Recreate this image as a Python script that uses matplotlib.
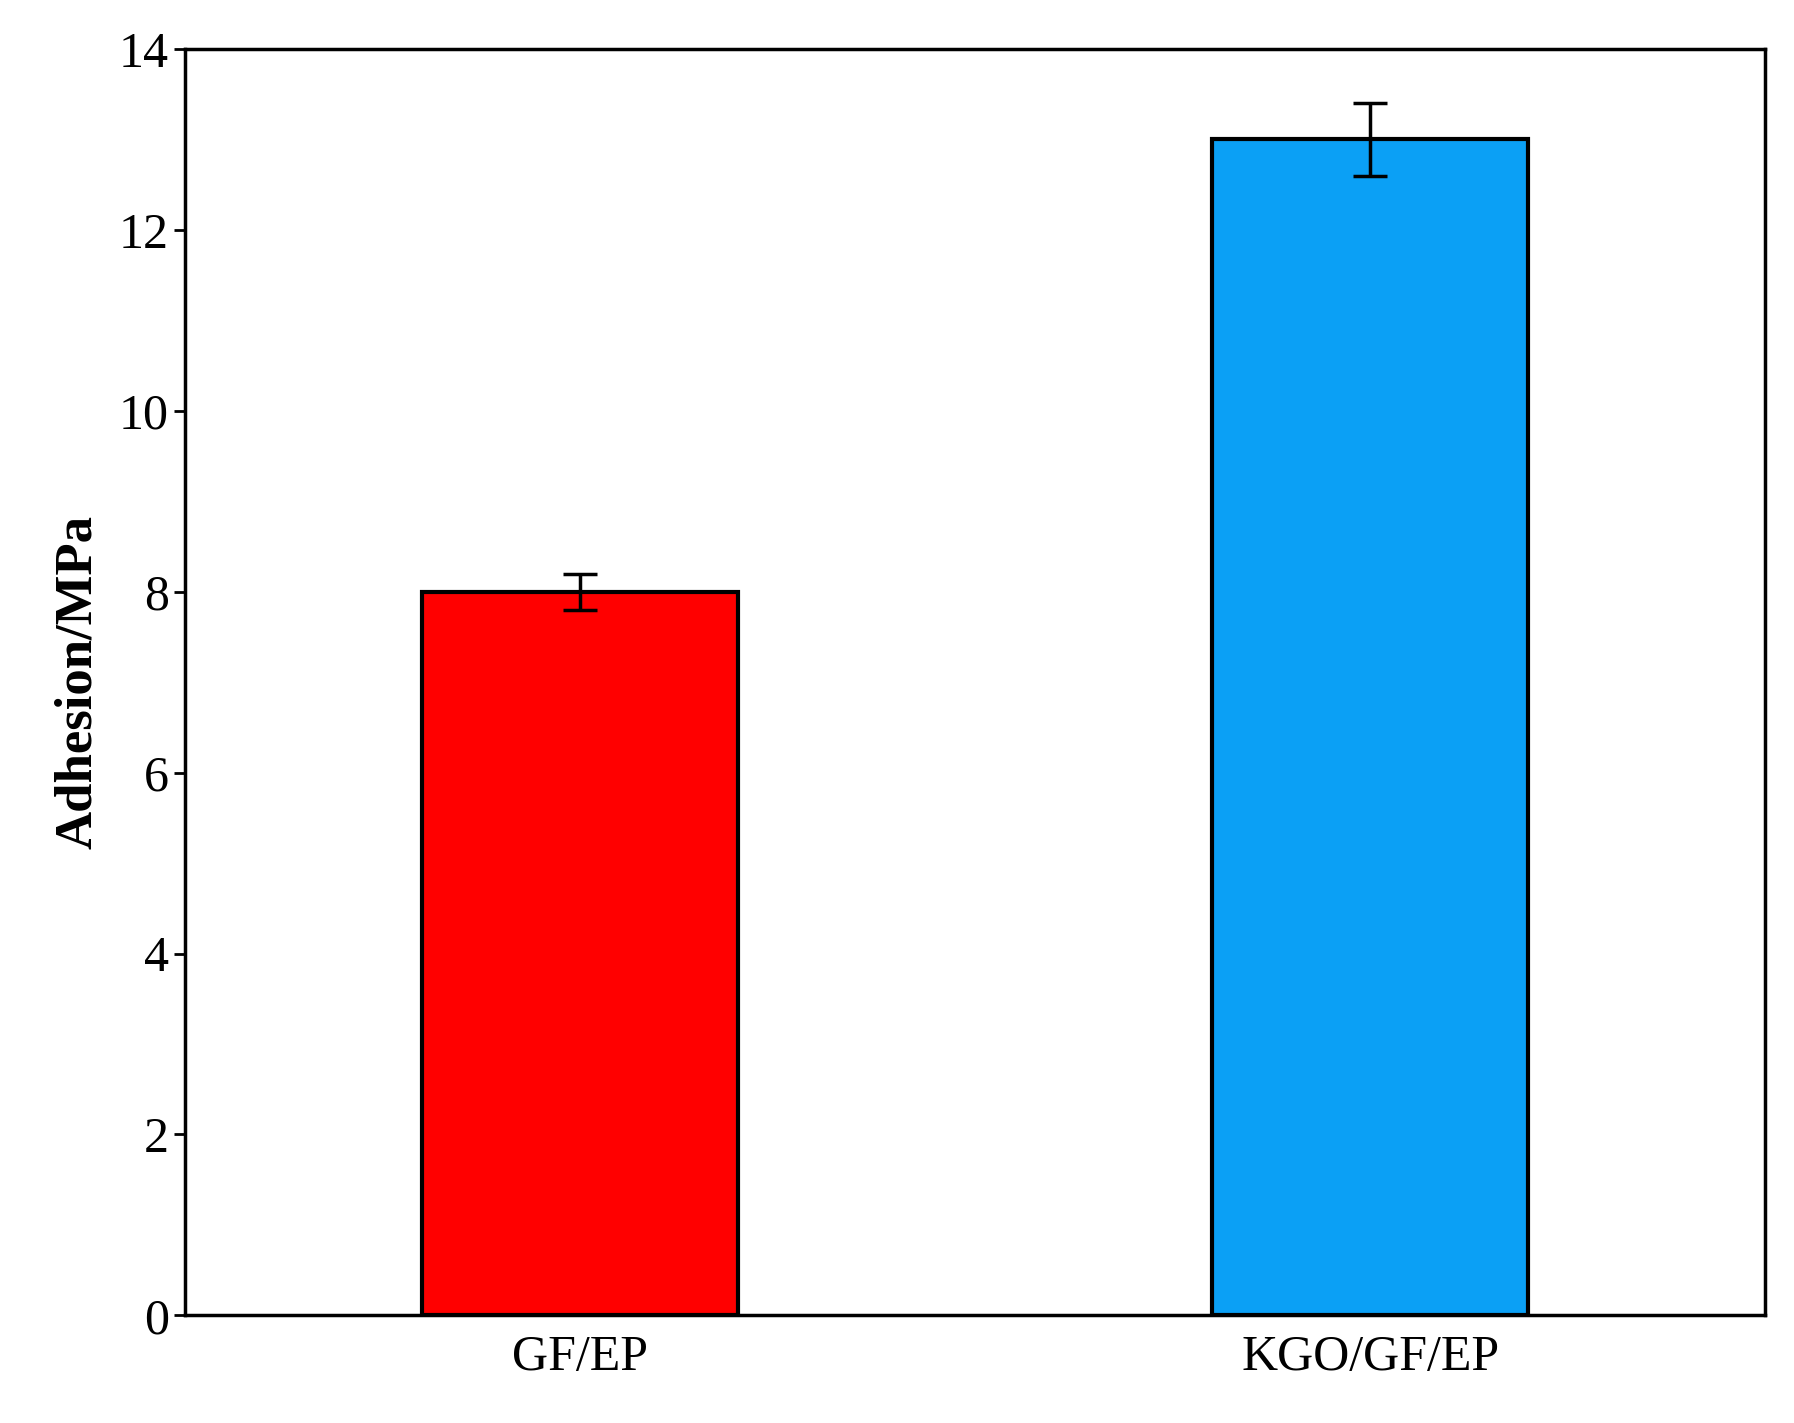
import matplotlib

matplotlib.use("Agg")

import matplotlib.pyplot as plt

# values
categories = ["GF/EP", "KGO/GF/EP"]
adhesion = [8.0, 13.0]
errors = [0.2, 0.4]
colors = ["#ff0000", "#0ba0f5"]

plt.rcParams["font.family"] = ["Liberation Serif", "DejaVu Serif"]

fig = plt.figure(figsize=(17.94, 14.23), dpi=100)
ax = fig.add_axes([0.103, 0.0756, 0.881, 0.890])

x = list(range(len(categories)))
ax.bar(x, adhesion, width=0.4, color=colors, edgecolor="black", linewidth=3)
ax.errorbar(x, adhesion, yerr=errors, fmt="none", ecolor="black",
            elinewidth=2.5, capsize=12, capthick=2.5)

ax.set_xlim(-0.5, 1.5)
ax.set_ylim(0, 14)
ax.set_yticks(range(0, 15, 2))
ax.set_xticks(x)
ax.set_xticklabels(categories)
ax.tick_params(axis="both", labelsize=36, width=2, length=8, direction="out")
ax.tick_params(axis="x", length=0, pad=14)
for spine in ax.spines.values():
    spine.set_linewidth(2.5)
ax.set_ylabel("Adhesion/MPa", fontsize=38, fontweight="bold", labelpad=12)

fig.savefig("out.png", dpi=100)
